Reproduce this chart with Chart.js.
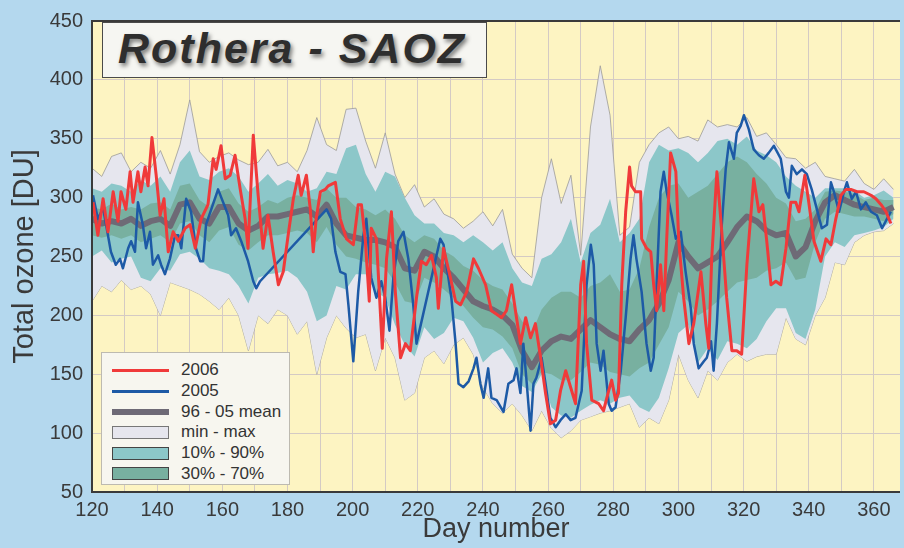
<!DOCTYPE html>
<html>
<head>
<meta charset="utf-8">
<title>Rothera - SAOZ</title>
<script src="https://cdn.jsdelivr.net/npm/chart.js@4.4.0/dist/chart.umd.min.js"></script>
<style>
  body { margin: 0; background: #b4d8ee; }
  #wrap { position: relative; width: 904px; height: 548px; }
  #chart { display: block; }
  #title {
    position: absolute; left: 102px; top: 22px; width: 385px; height: 56px;
    box-sizing: border-box; background: #f6f6f2; border: 1.5px solid #4a4a4a;
    font: italic bold 43px "Liberation Sans", Arial, sans-serif; letter-spacing: 2px;
    color: #2e2e2e; text-shadow: 2px 3px 4px rgba(0,0,0,0.5);
    line-height: 50px; padding-left: 15px; white-space: nowrap;
  }
  #legend {
    position: absolute; left: 101px; top: 352px; width: 189px; height: 133px;
    box-sizing: border-box; background: #f7f6ef; border: 1px solid #bdbab0; padding-top: 7px;
  }
  .row { height: 20.7px; display: flex; align-items: center;
    font: 17px "Liberation Sans", Arial, sans-serif; color: #333; }
  .sw { width: 57px; margin-left: 10px; margin-right: 12px; box-sizing: border-box; }
</style>
</head>
<body>
<div id="wrap">
  <canvas id="chart" width="904" height="548"></canvas>
  <div id="title">Rothera - SAOZ</div>
  <div id="legend"></div>
</div>
<script>
// 2006 daily values
const days06 = [120.3,121.8,123.4,124.9,126.5,128,128.9,130.4,131.7,132.6,
  134.1,135,136.3,137.2,138.4,139.7,140.9,142.1,143.4,144.9,
  146.5,148.6,150.1,151.7,153.5,155.6,157.2,158.1,159.6,160.9,
  162.4,163.9,165.5,167,167.9,169.5,171,172.5,174,175.6,
  177.2,178.7,180.2,181.8,183.3,184.2,185.8,187,187.9,188.8,
  190.1,191.6,192.5,194.7,196.2,198.1,200.2,201.7,202.7,203.9,
  205.1,205.7,207.3,209.1,210.4,211.9,213.1,214.7,216.2,217.7,
  219.6,221.1,222.6,224.2,225.7,226.3,227.9,230,231.6,233.1,
  235,237.1,238.6,240.8,242.6,244.2,245.7,247.2,248.8,250.3,
  251.5,253.1,254.6,256.1,257.7,259.2,260.7,262.3,263.8,265.4,
  266.9,268.4,270,270.9,271.8,273.4,275.5,277,278.6,279.5,
  280.7,281.6,282.6,283.8,285,285.6,286.8,288.4,288.7,290.2,
  291.5,292.4,293.3,294.5,295.5,296.4,297.6,299.2,300.1,301.6,
  303.2,304.7,306.9,308.4,309.3,310.2,311.8,313.3,314.8,316.4,
  317.9,319.4,321,323.1,324.7,325.9,327.1,328.4,329.9,331.4,
  333,334.5,336,337,338.8,340,341.6,343.7,345.3,346.8,
  348.3,349.9,351.4,352.9,354.8,356.9,359.1,360.6,362.2,363.7,
  365.2];
const oz06 = [296,268,299,271,305,280,305,290,322,296,
  322,305,326,310,351,319,285,299,254,271,
  263,274,277,257,282,294,333,324,344,316,
  319,336,307,282,257,353,302,257,285,254,
  226,237,268,299,319,302,319,290,254,282,
  305,307,310,313,282,265,260,294,294,263,
  212,274,265,172,248,288,220,164,176,170,
  215,246,243,251,232,206,257,232,212,209,
  220,248,240,226,204,201,198,204,226,198,
  176,198,181,193,164,134,108,111,136,153,
  139,125,226,246,176,128,125,119,136,145,
  128,134,226,288,326,310,305,305,265,257,
  254,226,204,243,204,265,338,322,263,215,
  176,193,237,193,172,248,322,271,215,170,
  170,167,243,316,288,294,263,226,229,226,
  257,296,296,288,319,296,263,246,265,260,
  282,302,307,307,305,305,302,299,294,288,
  278];

// 2005 daily values (gaps are joined by straight lines)
const days05 = [120.3,121.8,123.4,124.9,125.8,127.3,128.6,129.5,131.1,132,
  133.2,134.1,135.6,136.6,137.8,138.7,140.3,141.2,142.4,143.9,
  145.5,146.5,147.4,148.9,150.4,151.9,153.2,154.1,155,158.7,
  161.8,162.7,164.2,165.8,167.9,169.5,170.4,171.6,192,193.4,
  194.7,196.2,197.8,198.7,200.2,201.7,203.3,204.2,205.7,207.3,
  208.8,210,211.3,212.5,214,215.6,217.1,218.6,219.6,226.9,
  227.9,228.8,230.3,231.6,232.5,234,235.6,237.1,238,239.2,
  240.2,241.6,242.6,244.2,246.3,247.8,249.4,250.3,251.5,252.4,
  253.3,254.6,255.5,256.4,258,259.2,260.7,262.3,263.8,265.4,
  266.9,268.4,270.3,271.8,273.1,274,274.9,276.1,277,278.6,
  279.5,280.7,282.3,283.8,285.3,286.2,287.1,288.7,290.2,291.5,
  292.4,293.3,294.5,295.5,296.4,297.9,299.2,300.7,302.2,303.8,
  304.7,306.2,307.8,308.7,310,310.8,311.8,313.3,314.5,315.5,
  317,317.9,319.1,320.1,321.6,323.1,324.7,326.2,327.7,329.3,
  331.4,333,333.9,334.8,336.3,337.9,339.4,340.9,342.5,344,
  345.6,346.8,347.7,349.3,350.8,351.7,353.2,354.5,356,357.5,
  359.1,360.9,362.5,364,365.2];
const oz05 = [302,282,291,268,254,243,248,240,257,263,
  254,296,277,257,271,243,251,243,235,248,
  268,268,257,299,288,257,246,246,277,307,
  285,268,274,263,246,229,223,229,290,282,
  254,237,235,209,161,220,268,282,232,215,
  229,215,187,232,263,271,248,209,176,265,
  260,243,215,176,142,139,144,155,164,142,
  130,155,130,128,118,142,145,155,134,176,
  147,102,142,147,164,142,113,105,111,116,
  111,113,136,226,260,243,176,153,170,125,
  119,122,153,198,248,268,248,220,176,153,
  164,226,305,322,305,285,265,271,237,206,
  176,155,161,164,178,153,193,277,324,347,
  333,355,361,370,358,341,336,333,338,344,
  333,305,300,327,320,324,320,307,290,274,
  277,313,305,288,305,313,299,305,290,296,
  288,285,274,282,288];

// 1996-2005 climatology, every third day
const bandDays = [120,123,126,129,132,135,138,141,144,147,
  150,153,156,159,162,165,168,171,174,177,
  180,183,186,189,192,195,198,201,204,207,
  210,213,216,219,222,225,228,231,234,237,
  240,243,246,249,252,255,258,261,264,267,
  270,273,276,279,282,285,288,291,294,297,
  300,303,306,309,312,315,318,321,324,327,
  330,333,336,339,342,345,348,351,354,357,
  360,363,366];
const ozMax = [325,318,335,338,322,330,325,340,320,345,
  383,339,330,335,338,332,328,330,341,327,
  330,322,340,368,345,340,375,376,348,325,
  355,320,300,311,292,299,286,282,274,280,
  288,276,290,252,240,232,300,333,295,319,
  251,360,412,370,268,275,330,345,355,360,
  350,352,348,366,360,362,360,368,352,355,
  345,334,333,325,330,318,316,314,324,312,
  307,316,307];
const ozP90 = [308,305,312,310,305,315,310,318,305,330,
  340,318,315,322,325,318,305,312,320,310,
  315,312,305,308,322,320,342,345,320,305,
  322,318,300,285,278,278,270,268,262,268,
  262,255,262,240,228,225,248,252,262,282,
  245,270,277,299,262,270,282,330,345,340,
  342,338,330,338,348,350,345,352,340,336,
  330,318,310,305,300,308,308,308,306,300,
  302,306,300];
const ozP70 = [292,290,295,290,292,290,295,296,290,310,
  312,298,292,305,308,295,288,292,298,295,
  300,302,300,298,308,300,300,292,290,285,
  290,282,268,262,268,265,255,250,242,238,
  230,225,222,210,195,185,205,215,220,220,
  215,225,228,235,220,222,240,275,300,310,
  312,300,305,310,320,330,335,330,320,312,
  300,295,280,282,290,305,306,305,303,298,
  300,298,298];
const ozMean = [282,278,280,278,282,276,280,282,276,294,
  296,282,278,292,292,278,272,276,284,284,
  286,288,290,284,294,278,268,266,264,264,
  262,258,240,238,254,250,240,232,222,212,
  208,205,200,192,170,156,170,178,182,180,
  188,196,190,184,180,178,188,196,210,230,
  262,250,240,245,250,262,275,284,280,272,
  268,270,250,258,280,296,302,298,294,292,
  290,288,292];
const ozP30 = [268,266,268,265,268,262,265,268,262,278,
  280,268,262,272,275,260,255,262,268,268,
  270,272,270,262,275,260,250,248,245,243,
  240,228,212,210,232,228,222,215,208,198,
  190,188,182,172,150,142,152,150,145,145,
  152,160,158,152,150,148,155,160,175,190,
  220,212,200,205,212,220,228,230,232,238,
  240,245,230,232,262,282,288,286,284,284,
  282,280,286];
const ozP10 = [250,255,245,248,250,232,229,240,238,252,
  254,248,240,238,235,225,210,232,235,236,
  238,232,220,195,200,225,222,235,235,220,
  215,192,175,165,190,180,185,198,195,181,
  160,168,172,160,140,135,150,122,115,113,
  119,124,128,125,130,132,122,118,130,155,
  185,192,160,172,162,178,176,172,180,195,
  206,206,185,180,205,250,262,258,268,270,
  272,275,282];
const ozMin = [212,225,220,230,222,225,218,200,228,225,
  222,218,212,205,215,200,170,200,193,205,
  200,184,195,150,181,200,189,181,184,153,
  181,164,128,134,164,170,159,175,181,167,
  139,125,117,125,115,102,119,104,96,102,
  111,114,117,119,122,125,105,113,108,128,
  167,145,130,153,145,160,167,161,165,167,
  167,198,180,175,200,215,245,243,262,268,
  271,272,278];

// x grid every 10 days, labels every 20
const gridDays = [120,130,140,150,160,170,180,190,200,210,220,230,240,
  250,260,270,280,290,300,310,320,330,340,350,360];
const legendLabels = ['2006', '2005', '96 - 05 mean', 'min - max', '10% - 90%', '30% - 70%'];

const RED = '#f03a3a', BLUE = '#1d5aa6', MEAN = '#6e6a76';
const MINMAX = '#e6e6ee', P1090 = '#8cc7c9', P3070 = '#78b0a0', EDGE = '#9c9a98';

function pts(xs, ys) {
  return xs.map((x, i) => ({ x: x, y: ys[i] }));
}

// legend (html, inside the plot)
const swatches = [
  'height:3px;background:' + RED,
  'height:3px;background:' + BLUE,
  'height:6px;background:' + MEAN,
  'height:13px;background:' + MINMAX + ';border:1px solid #777',
  'height:13px;background:' + P1090 + ';border:1px solid #444',
  'height:13px;background:' + P3070 + ';border:1px solid #444'
];
const leg = document.getElementById('legend');
legendLabels.forEach((lab, i) => {
  const row = document.createElement('div');
  row.className = 'row';
  row.innerHTML = '<div class="sw" style="' + swatches[i] + '"></div><span>' + lab + '</span>';
  leg.appendChild(row);
});

const plotBg = {
  id: 'plotBg',
  beforeDraw(chart) {
    const { ctx, chartArea: a } = chart;
    ctx.save();
    ctx.fillStyle = '#b4d8ee';
    ctx.fillRect(0, 0, chart.width, chart.height);
    ctx.fillStyle = '#fdf4c2';
    ctx.fillRect(a.left, a.top, a.right - a.left, a.bottom - a.top);
    ctx.restore();
  },
  afterDraw(chart) {
    const { ctx, chartArea: a } = chart;
    ctx.save();
    ctx.strokeStyle = '#3a3a3a';
    ctx.lineWidth = 2;
    ctx.beginPath();
    ctx.moveTo(a.right, a.top);
    ctx.lineTo(a.left, a.top);
    ctx.lineTo(a.left, a.bottom);
    ctx.lineTo(a.right, a.bottom);
    ctx.stroke();
    ctx.restore();
  }
};

Chart.defaults.font.family = '"Liberation Sans", Arial, sans-serif';
Chart.defaults.color = '#3a3a3a';

const line = (data, color, width, order) => ({
  data: data, borderColor: color, borderWidth: width, fill: false,
  pointRadius: 0, tension: 0, borderJoinStyle: 'round', order: order
});
const band = (data, color, target, order, edge) => ({
  data: data, backgroundColor: color, fill: target,
  borderColor: edge || 'transparent', borderWidth: edge ? 0.8 : 0,
  pointRadius: 0, tension: 0, order: order
});

new Chart(document.getElementById('chart'), {
  type: 'line',
  data: {
    datasets: [
      line(pts(days06, oz06), RED, 3, 0),
      line(pts(days05, oz05), BLUE, 2.5, 1),
      line(pts(bandDays, ozMean), MEAN, 6, 2),
      band(pts(bandDays, ozP70), P3070, 4, 3),
      band(pts(bandDays, ozP30), P3070, false, 4),
      band(pts(bandDays, ozP90), P1090, 6, 5),
      band(pts(bandDays, ozP10), P1090, false, 6),
      band(pts(bandDays, ozMax), MINMAX, 8, 7, EDGE),
      band(pts(bandDays, ozMin), MINMAX, false, 8, EDGE)
    ]
  },
  options: {
    responsive: false,
    animation: false,
    devicePixelRatio: 1,
    layout: { padding: { top: 18, right: 4, left: 0, bottom: 0 } },
    plugins: {
      legend: { display: false },
      tooltip: { enabled: false },
      filler: { propagate: false }
    },
    scales: {
      x: {
        type: 'linear', min: 120, max: 368,
        afterFit(s) { s.height = 56; },
        afterBuildTicks(s) { s.ticks = gridDays.map(v => ({ value: v })); },
        ticks: {
          autoSkip: false, maxRotation: 0, padding: 6,
          font: { size: 20 }, color: '#3a3a3a',
          callback: v => (v % 20 === 0 ? v : '')
        },
        grid: { color: '#d4cac4', drawTicks: false, lineWidth: 1 },
        border: { display: false },
        title: { display: true, text: 'Day number', font: { size: 27 }, color: '#3a3a3a', padding: { top: 0, bottom: 2 } }
      },
      y: {
        min: 50, max: 450,
        afterFit(s) { s.width = 92; },
        ticks: { stepSize: 50, padding: 9, font: { size: 20 }, color: '#3a3a3a' },
        grid: { color: '#d4cac4', drawTicks: false, lineWidth: 1 },
        border: { display: false },
        title: { display: true, text: 'Total ozone [DU]', font: { size: 29 }, color: '#3a3a3a', padding: { top: 8, bottom: 0 } }
      }
    }
  },
  plugins: [plotBg]
});
</script>
</body>
</html>
